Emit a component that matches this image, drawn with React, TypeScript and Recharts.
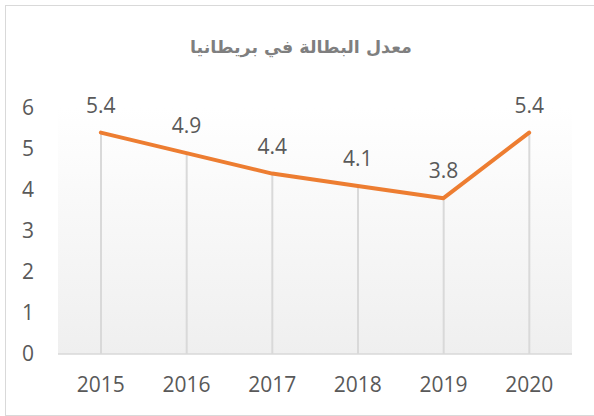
import React from 'react';
import {
  ComposedChart,
  Line,
  Bar,
  XAxis,
  YAxis,
  CartesianGrid,
  LabelList,
} from 'recharts';

const title = 'معدل البطالة في بريطانيا';
const years = ['2015', '2016', '2017', '2018', '2019', '2020'];
const unemployment = [5.4, 4.9, 4.4, 4.1, 3.8, 5.4];
const yTicks = [0, 1, 2, 3, 4, 5, 6];

const data = years.map((year, i) => ({ year, value: unemployment[i] }));

const FONT = '"Open Sans", "Liberation Sans", sans-serif';

export default function App() {
  return (
    <div
      style={{
        position: 'absolute',
        left: 0,
        top: 0,
        width: 594,
        height: 416,
        overflow: 'hidden',
        background: '#ffffff',
      }}
    >
      <div
        style={{
          position: 'absolute',
          left: 5,
          top: 5,
          width: 600,
          height: 411,
          boxSizing: 'border-box',
          border: '1.5px solid #d9d9d9',
        }}
      />
      <div
        style={{
          position: 'absolute',
          left: 0,
          top: 32,
          width: 602,
          textAlign: 'center',
          direction: 'rtl',
          fontFamily: '"DejaVu Sans", sans-serif',
          fontWeight: 'bold',
          fontSize: 17.5,
          lineHeight: '30px',
          color: '#7f7f7f',
        }}
      >
        {title}
      </div>
      <div style={{ position: 'absolute', left: 0, top: 0 }}>
        <ComposedChart
          width={594}
          height={416}
          data={data}
          margin={{ top: 108, right: 22, left: 0, bottom: 0 }}
        >
          <defs>
            <linearGradient id="plotBg" x1="0" y1="0" x2="0" y2="1">
              <stop offset="0%" stopColor="#ffffff" />
              <stop offset="100%" stopColor="#efefef" />
            </linearGradient>
          </defs>
          <CartesianGrid
            horizontal={false}
            vertical={false}
            fill="url(#plotBg)"
            stroke="none"
          />
          <XAxis
            dataKey="year"
            height={62}
            tickLine={false}
            tickSize={0}
            tickMargin={23}
            axisLine={{ stroke: '#d9d9d9', strokeWidth: 1.5 }}
            tick={{ fill: '#595959', fontSize: 21, fontFamily: FONT }}
            interval={0}
          />
          <YAxis
            width={58}
            domain={[0, 6]}
            ticks={yTicks}
            axisLine={false}
            tickLine={false}
            tickSize={0}
            tickMargin={24}
            tick={{ fill: '#595959', fontSize: 21, fontFamily: FONT }}
          />
          <Bar
            dataKey="value"
            barSize={2}
            fill="#d9d9d9"
            isAnimationActive={false}
          />
          <Line
            type="linear"
            dataKey="value"
            stroke="#ED7D31"
            strokeWidth={4}
            strokeLinecap="round"
            strokeLinejoin="round"
            dot={false}
            activeDot={false}
            isAnimationActive={false}
          >
            <LabelList
              dataKey="value"
              position="top"
              offset={20}
              fill="#595959"
              fontSize={21}
              fontFamily={FONT}
            />
          </Line>
        </ComposedChart>
      </div>
    </div>
  );
}
